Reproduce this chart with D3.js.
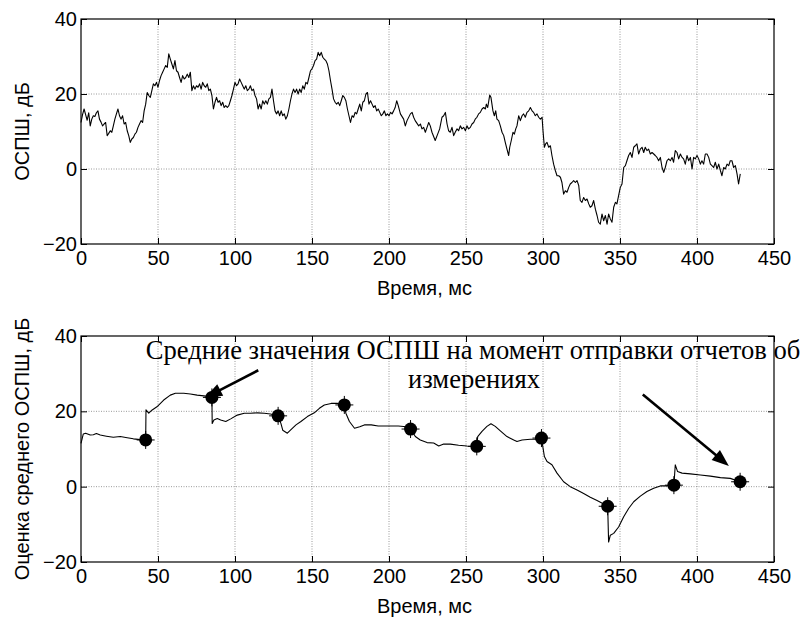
<!DOCTYPE html>
<html><head><meta charset="utf-8">
<script src="https://cdn.jsdelivr.net/npm/d3@7"></script>
<style>body{margin:0;background:#fff}svg{display:block}</style>
</head><body>
<svg id="chart" width="804" height="617"></svg>
<script>
// ---------- data ----------
const topTime = [0,1,2,3,4,5,6,7,8,9,10,11,12,13,14,15,16,17,18,19,20,21,22,23,24,25,26,27,28,29,30,31,32,33,34,35,36,37,38,39,40,41,42,43,44,45,46,47,48,49,50,51,52,53,54,55,56,57,58,59,60,61,62,63,64,65,66,67,68,69,70,71,72,73,74,75,76,77,78,79,80,81,82,83,84,85,86,87,88,89,90,91,92,93,94,95,96,97,98,99,100,101,102,103,104,105,106,107,108,109,110,111,112,113,114,115,116,117,118,119,120,121,122,123,124,125,126,127,128,129,130,131,132,133,134,135,136,137,138,139,140,141,142,143,144,145,146,147,148,149,150,151,152,153,154,155,156,157,158,159,160,161,162,163,164,165,166,167,168,169,170,171,172,173,174,175,176,177,178,179,180,181,182,183,184,185,186,187,188,189,190,191,192,193,194,195,196,197,198,199,200,201,202,203,204,205,206,
207.4,209.5,210.6,211.7,213.9,215,216,217,219.3,220.4,221.4,222.5,223.6,224.7,225.8,226.8,227.9,230,231.6,232.9,234.4,235.5,236.6,237.7,238.7,239.8,240.9,242,243,244.2,245.2,246.3,247.4,248.5,249.6,250.6,251.7,252.8,253.9,255,256,257.1,258.2,259.3,260.4,261.5,262.6,263.2,264.1,265.4,266.2,267.5,268.4,269.3,270.1,271.2,272.3,273.4,274.5,275.5,276.6,277.7,278.4,279.4,280.5,281.4,282.3,283.1,284.2,285.3,286.4,287.4,288.5,289.6,290.7,291.8,292.9,293.9,295,296.1,297.2,298.3,299.4,300,300.9,301.7,302.6,303.7,304.8,305.8,306.9,308,309.1,310.2,311.3,312.3,313.4,314.5,315.6,316.7,317.7,318.8,319.9,321,322.1,323.2,324.2,325.3,326.4,327.5,328.6,329.7,330.7,331.8,332.9,334,335.1,336.1,337.2,338.3,339.4,340.5,341.6,342.6,343.7,344.8,345.9,347,348,349.1,350.2,351.3,352.4,353.5,354.5,355.6,356.7,357.8,358.9,359.9,361,362.1,363.2,364.3,365.4,366.4,367.5,368.6,369.7,370.8,371.9,372.9,374,375.1,376.2,377.3,378.4,379.4,380.5,381.6,382.7,383.8,384.8,385.9,387,388.1,389.2,390.3,391.3,392.4,393.5,394.6,395.7,396.8,397.8,398.9,400,401.1,402.2,403.2,404.3,405.4,406.5,407.6,408.7,409.7,410.8,411.9,413,414.1,415.2,416.2,417.3,418.4,419.5,420.6,421.6,422.7,423.8,424.9,426,427,428.1];
const topSnr = [12.4,14.5,16.0,14.5,13.0,15.0,11.5,13.3,14.2,14.0,15.0,15.5,13.3,12.5,11.5,12.0,12.4,8.9,9.5,10.2,9.8,11.5,13.3,14.7,16.0,14.2,13.3,14.2,12.0,12.4,10.2,8.9,7.1,8.0,8.4,9.3,9.8,11.1,12.0,12.9,12.4,15.5,17.3,20.4,19.6,19.1,20.9,22.7,22.2,23.1,21.8,23.6,24.9,25.8,26.7,27.6,27.1,30.7,29.3,28.0,26.7,28.9,26.2,25.8,24.4,23.1,24.9,24.0,24.4,25.3,24.4,25.8,20.9,22.2,21.3,22.2,21.8,22.7,21.3,23.1,22.2,21.8,22.7,20.9,21.3,19.6,16.0,17.8,19.1,17.8,18.2,16.9,17.8,16.4,16.9,16.4,16.9,18.2,19.6,21.3,23.1,22.2,22.7,24.0,23.1,22.2,21.3,22.2,20.9,21.3,22.2,20.9,21.3,19.6,18.7,16.0,17.3,16.0,18.2,17.3,18.2,17.3,18.7,19.1,21.3,18.2,15.5,14.7,15.5,14.2,15.5,14.2,14.7,13.3,14.2,16.0,18.2,20.0,21.3,20.4,21.3,20.0,21.3,20.4,22.2,21.3,23.1,22.7,24.4,26.2,26.7,27.6,28.9,29.3,31.1,30.2,31.1,29.8,29.3,28.9,28.0,26.2,23.6,21.3,18.7,17.8,17.3,17.8,16.9,18.2,19.6,19.1,18.2,16.0,14.2,12.4,14.2,13.8,15.1,14.7,16.0,17.3,15.5,17.8,18.2,20.0,20.4,17.3,18.2,17.3,16.4,16.9,15.5,16.0,15.1,14.2,14.7,15.5,14.2,14.7,14.2,15.1,14.7,15.5,16.4,18.2,16.9,
14.7,13.3,11.5,12.9,14.7,15.1,13.8,12.9,11.5,12.0,10.7,11.1,9.8,11.1,12.4,11.5,9.8,7.6,9.3,10.7,13.8,14.2,15.1,12.0,10.2,9.8,11.1,8.9,9.8,10.7,10.2,11.5,10.7,11.1,10.2,11.5,10.7,11.1,12.0,12.4,13.3,13.8,14.7,15.1,16.0,16.4,16.0,17.3,16.4,19.7,19.1,15.5,14.2,15.5,13.3,12.9,11.5,9.8,8.9,7.1,5.3,3.6,5.8,7.6,9.8,9.3,10.7,11.5,14.2,12.9,14.2,14.7,13.8,15.1,15.5,16.4,15.5,15.1,14.2,14.7,13.8,13.3,13.8,10.2,5.8,6.7,7.1,5.8,6.2,3.6,1.3,-0.4,-1.8,-1.8,-2.2,-3.6,-6.7,-5.8,-6.2,-4.9,-4.0,-3.6,-3.1,-3.6,-3.1,-4.4,-8.4,-8.9,-7.6,-8.4,-8.0,-9.3,-10.2,-9.8,-8.4,-10.7,-12.4,-14.2,-14.7,-12.0,-13.8,-12.4,-14.7,-12.0,-13.3,-14.2,-10.2,-8.9,-9.3,-7.1,-4.9,-4.0,0.4,0.9,2.2,3.6,4.4,3.1,5.8,6.2,6.7,4.0,5.3,5.8,4.4,5.8,4.9,5.3,4.0,4.4,4.0,3.6,3.1,2.2,3.1,0.4,-0.9,0.4,2.2,2.7,2.2,3.1,1.8,4.9,4.4,2.7,4.0,3.1,2.7,1.3,3.6,2.2,3.1,0.0,3.1,2.7,3.6,2.7,1.3,2.2,1.3,4.0,4.0,3.1,1.3,0.9,0.4,1.8,0.0,1.3,-0.4,-1.8,0.4,0.0,1.3,0.9,2.2,2.2,0.4,0.9,-1.3,-4.0,-1.3];

const estTime = [0,1.5,3,6,8,10,12.5,16.5,21,25.5,30,34,38.5,42,42.2,44,46,49.3,53.7,58,61.3,66.7,71,75.4,79.8,85,85.2,86.3,88.5,90.7,94,97.2,101.5,106,110,114.6,119,123,128,129.8,131,134,136,139.6,142.8,147,151.5,154.8,158,162.4,166.7,171,172,174.3,177.6,181,184,188.5,193,199.5,206,211.3,214,217.1,220.3,224.7,229,232.3,235.5,239.8,245.2,250.6,257,257.6,260.4,263.6,266.2,269,272.3,276.6,281,283.1,286.4,291.8,296.1,299,300.9,302.6,305.8,309.1,313.4,317.7,322.1,326.4,330.7,335.1,339.4,342,342.6,343.7,345.9,349.1,352.4,355.6,358.9,363.2,367.5,371.9,376.2,380.5,385,385.9,387.4,390.3,395.7,402.2,408.7,415.2,421.6,428];
const estSnr = [11.5,14.0,14.2,13.7,13.8,14.1,13.7,13.4,13.1,13.3,13.0,12.7,12.5,12.4,20.4,19.5,20.3,21.2,23.0,24.3,24.8,24.8,24.6,24.3,24.1,23.8,16.8,17.7,18.1,17.7,17.3,18.0,19.0,19.5,19.5,19.6,19.5,19.3,18.8,16.8,15.0,14.2,15.0,16.4,17.3,18.6,19.6,20.8,21.7,22.1,22.1,21.7,19.5,17.3,15.5,15.9,16.4,16.4,16.1,16.1,16.1,15.9,15.4,13.3,12.4,11.7,11.6,10.8,11.3,11.3,11.0,10.8,10.7,13.3,14.7,16.0,16.7,16.0,14.8,13.3,12.4,12.0,12.4,12.6,12.6,12.9,8.0,6.7,5.8,3.6,1.3,0.0,-0.9,-1.8,-2.8,-3.7,-4.6,-5.2,-14.7,-12.9,-12.4,-10.7,-8.0,-5.8,-4.0,-2.5,-1.3,-0.4,0.2,0.2,0.4,5.8,4.0,3.6,3.4,3.1,2.8,2.4,2.2,1.3];

const reportTime = [42,85,128,171,214,257,299,342,385,428];
const reportSnr = [12.4,23.7,18.8,21.7,15.3,10.7,12.9,-5.2,0.4,1.3];

const xTicks = [0,50,100,150,200,250,300,350,400,450];
const yTicks = [-20,0,20,40];
const xLabel = "Время, мс";
const topYLabel = "ОСПШ, дБ";
const bottomYLabel = "Оценка среднего ОСПШ, дБ";
const noteLines = ["Средние значения ОСПШ на момент отправки отчетов об", "измерениях"];
// annotation arrows, in data units of the lower panel
const arrowTail = [[115.1, 30.9], [364.8, 24.5]];
const arrowTip = [[80.6, 23.6], [420.7, 5.5]];

// ---------- drawing ----------
const svg = d3.select("#chart");
const left = 81, right = 774;
const x = d3.scaleLinear().domain([0, 450]).range([left, right]);
const SANS = "'Liberation Sans', Arial, sans-serif";

function panel(yTop, yBottom, times, values, yLabelText) {
  const y = d3.scaleLinear().domain([-20, 40]).range([yBottom, yTop]);
  const g = svg.append("g");
  g.append("g").selectAll("line").data(xTicks.slice(1, -1)).join("line")
    .attr("x1", d => x(d)).attr("x2", d => x(d)).attr("y1", yTop).attr("y2", yBottom)
    .attr("stroke", "#808080").attr("stroke-width", 0.8).attr("stroke-dasharray", "1,1.5");
  g.append("g").selectAll("line").data(yTicks.slice(1, -1)).join("line")
    .attr("y1", d => y(d)).attr("y2", d => y(d)).attr("x1", left).attr("x2", right)
    .attr("stroke", "#808080").attr("stroke-width", 0.8).attr("stroke-dasharray", "1,1.5");
  const pts = times.map((t, i) => [t, values[i]]);
  g.append("path").datum(pts)
    .attr("d", d3.line().x(d => x(d[0])).y(d => y(d[1])))
    .attr("fill", "none").attr("stroke", "#000").attr("stroke-width", 1.1)
    .attr("stroke-linejoin", "round");
  const tick = 6;
  const ax = (gen, tr) => {
    const a = g.append("g").attr("transform", tr).call(gen);
    a.select(".domain").remove();
    a.selectAll("line").attr("stroke", "#000");
    a.selectAll("text").attr("font-family", SANS).attr("font-size", 20).attr("fill", "#000");
    return a;
  };
  ax(d3.axisBottom(x).tickValues(xTicks).tickSizeInner(-tick).tickSizeOuter(0).tickPadding(7).tickFormat(d3.format("d")), `translate(0,${yBottom})`);
  ax(d3.axisTop(x).tickValues(xTicks).tickSizeInner(-tick).tickSizeOuter(0).tickFormat(""), `translate(0,${yTop})`);
  ax(d3.axisLeft(y).tickValues(yTicks).tickSizeInner(-tick).tickSizeOuter(0).tickPadding(4).tickFormat(d3.format("d")), `translate(${left},0)`);
  ax(d3.axisRight(y).tickValues(yTicks).tickSizeInner(-tick).tickSizeOuter(0).tickFormat(""), `translate(${right},0)`);
  g.append("rect").attr("x", left).attr("y", yTop).attr("width", right - left).attr("height", yBottom - yTop)
    .attr("fill", "none").attr("stroke", "#000").attr("stroke-width", 1.2);
  g.append("text").attr("x", (left + right) / 2 - 3).attr("y", yBottom + 51)
    .attr("text-anchor", "middle").attr("font-family", SANS).attr("font-size", 20).text(xLabel);
  g.append("text").attr("transform", `translate(29,${(yTop + yBottom) / 2}) rotate(-90)`)
    .attr("text-anchor", "middle").attr("font-family", SANS).attr("font-size", 20).text(yLabelText);
  return y;
}

panel(19, 244, topTime, topSnr, topYLabel);
const yb = panel(336, 562, estTime, estSnr, bottomYLabel);

// report markers
const mk = svg.append("g");
const rp = reportTime.map((t, i) => [t, reportSnr[i]]);
mk.selectAll("path").data(rp).join("path")
  .attr("d", d => { const cx = x(d[0]), cy = yb(d[1]); return `M${cx-9},${cy}H${cx+9}M${cx},${cy-9}V${cy+9}`; })
  .attr("stroke", "#000").attr("stroke-width", 1);
mk.selectAll("circle").data(rp).join("circle")
  .attr("cx", d => x(d[0])).attr("cy", d => yb(d[1])).attr("r", 6.5).attr("fill", "#000");

// annotation text
const note = svg.append("g").attr("font-family", "'Liberation Serif', 'Times New Roman', serif").attr("fill", "#000");
const t1 = note.append("text").attr("x", 473).attr("y", 359).attr("text-anchor", "middle").attr("font-size", 25).text(noteLines[0]);
const w = t1.node().getComputedTextLength();
const fs = 25 * 655 / w;
t1.attr("font-size", fs);
note.append("text").attr("x", 474).attr("y", 388).attr("text-anchor", "middle").attr("font-size", fs).text(noteLines[1]);

// arrows
arrowTail.forEach((tail, i) => {
  const x0 = x(tail[0]), y0 = yb(tail[1]), x1 = x(arrowTip[i][0]), y1 = yb(arrowTip[i][1]);
  const dx = x1 - x0, dy = y1 - y0, L = Math.hypot(dx, dy), ux = dx / L, uy = dy / L;
  const hl = 17, hw = 6.5;
  const bx = x1 - ux * hl, by = y1 - uy * hl;
  svg.append("line").attr("x1", x0).attr("y1", y0).attr("x2", bx + ux * 2).attr("y2", by + uy * 2)
    .attr("stroke", "#000").attr("stroke-width", 2.6);
  svg.append("path").attr("d", `M${x1},${y1}L${bx - uy * hw},${by + ux * hw}L${bx + uy * hw},${by - ux * hw}Z`)
    .attr("fill", "#000");
});
</script>
</body></html>
